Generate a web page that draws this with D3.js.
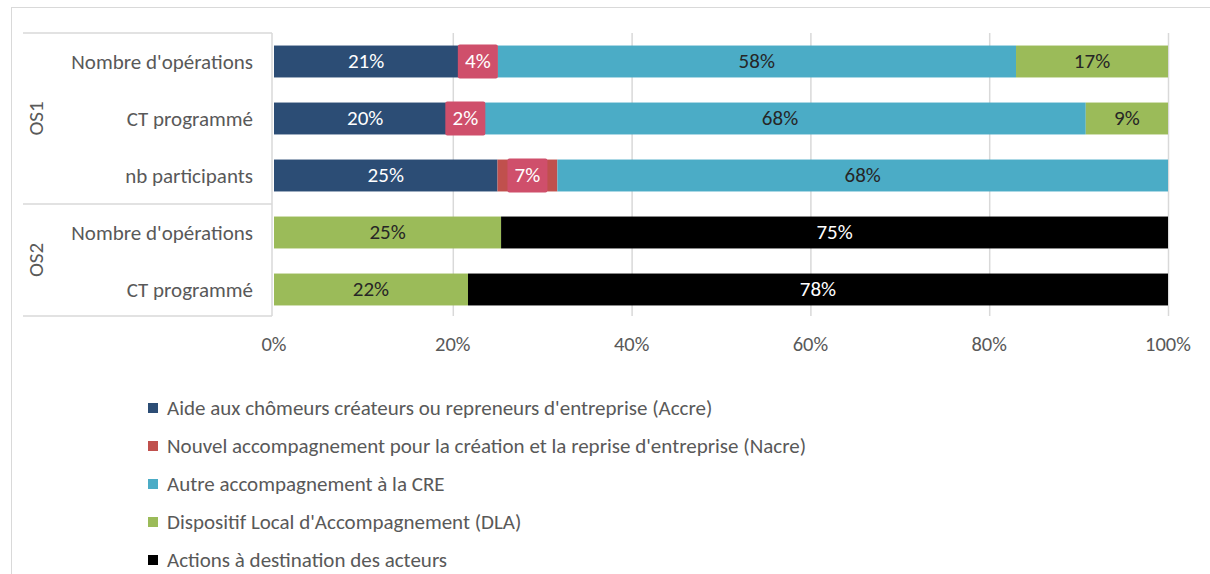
<!DOCTYPE html>
<html>
<head>
<meta charset="utf-8">
<script src="https://cdn.jsdelivr.net/npm/d3@7"></script>
<style>
  body { margin: 0; background: #fff; }
  svg { display: block; font-family: Carlito, "Open Sans", sans-serif; }
</style>
</head>
<body>
<div id="chart"></div>
<script>
// row labels (group, sub-category)
const groups = ["OS1", "OS1", "OS1", "OS2", "OS2"];
const rowLabels = ["Nombre d'opérations", "CT programmé", "nb participants", "Nombre d'opérations", "CT programmé"];

// series (share of each row, in %)
const seriesNames = [
  "Aide aux chômeurs créateurs ou repreneurs d'entreprise (Accre)",
  "Nouvel accompagnement pour la création et la reprise d'entreprise (Nacre)",
  "Autre accompagnement à la CRE",
  "Dispositif Local d'Accompagnement (DLA)",
  "Actions à destination des acteurs"
];
const accre = [20.6, 20.4, 25.0, 0, 0];
const nacre = [4.4, 2.0, 6.7, 0, 0];
const autreCre = [58.0, 68.4, 68.3, 0, 0];
const dla = [17.0, 9.2, 0, 25.4, 21.7];
const acteurs = [0, 0, 0, 74.6, 78.3];

const tickValues = [0, 20, 40, 60, 80, 100];

const colors = ["#2c4d75", "#c0504d", "#4bacc6", "#9bbb59", "#000000"];
const labelColors = ["#ffffff", "#ffffff", "#262626", "#262626", "#ffffff"];

const W = 1210, H = 574;
const fs = 21;
const svg = d3.select("#chart").append("svg")
  .attr("width", W)
  .attr("height", H);

// outer chart border
svg.append("rect")
  .attr("x", 11.5).attr("y", 7.5)
  .attr("width", W).attr("height", H)
  .attr("fill", "none")
  .attr("stroke", "#d9d9d9");

const keys = ["accre", "nacre", "autreCre", "dla", "acteurs"];
const table = rowLabels.map((d, i) => ({
  idx: i,
  accre: accre[i], nacre: nacre[i], autreCre: autreCre[i], dla: dla[i], acteurs: acteurs[i]
}));
const stacked = d3.stack().keys(keys)(table);

const x = d3.scaleLinear().domain([0, 100]).range([274, 1168]);
const y = d3.scaleBand()
  .domain(d3.range(rowLabels.length))
  .range([33, 318])
  .paddingInner(0.44)
  .paddingOuter(0.22);

// gridlines
svg.append("g")
  .selectAll("line")
  .data(tickValues.slice(1))
  .join("line")
  .attr("x1", d => x(d) + 0.5).attr("x2", d => x(d) + 0.5)
  .attr("y1", 33).attr("y2", 316)
  .attr("stroke", "#d9d9d9")
  .attr("stroke-width", 1.5);

// tick labels
svg.append("g")
  .selectAll("text")
  .data(tickValues)
  .join("text")
  .attr("x", d => x(d))
  .attr("y", 344)
  .attr("text-anchor", "middle")
  .attr("dominant-baseline", "central")
  .attr("font-size", fs - 0.5)
  .attr("fill", "#595959")
  .text(d => d + "%");

// category axis box
const axisG = svg.append("g")
  .attr("stroke", "#d9d9d9")
  .attr("stroke-width", 1.5);
const sepY = (y(2) + y.bandwidth() + y(3)) / 2;
[33, sepY, 316].forEach(v => {
  axisG.append("line")
    .attr("x1", 23).attr("x2", 272)
    .attr("y1", v).attr("y2", v);
});
axisG.append("line")
  .attr("x1", 272).attr("x2", 272)
  .attr("y1", 33).attr("y2", 316);

// row labels
svg.append("g")
  .selectAll("text")
  .data(rowLabels)
  .join("text")
  .attr("x", 253)
  .attr("y", (d, i) => y(i) + y.bandwidth() / 2)
  .attr("text-anchor", "end")
  .attr("dominant-baseline", "central")
  .attr("font-size", fs)
  .attr("fill", "#595959")
  .text(d => d);

// group labels (rotated)
const groupNames = [...new Set(groups)];
groupNames.forEach(g => {
  const rows = d3.range(groups.length).filter(i => groups[i] === g);
  const top = rows[0] === 0 ? 33 : sepY;
  const bottom = rows[rows.length - 1] === groups.length - 1 ? 316 : sepY;
  const cy = (top + bottom) / 2;
  svg.append("text")
    .attr("transform", `translate(36,${cy}) rotate(-90)`)
    .attr("text-anchor", "middle")
    .attr("dominant-baseline", "central")
    .attr("font-size", fs)
    .attr("fill", "#595959")
    .text(g);
});

// bars
const layer = svg.append("g")
  .selectAll("g")
  .data(stacked)
  .join("g")
  .attr("fill", (d, i) => colors[i]);

layer.selectAll("rect")
  .data(d => d.filter(p => p[1] - p[0] > 0))
  .join("rect")
  .attr("x", d => x(d[0]))
  .attr("y", d => y(d.data.idx))
  .attr("width", d => x(d[1]) - x(d[0]))
  .attr("height", y.bandwidth());

// data labels
const labelG = svg.append("g");
stacked.forEach((s, si) => {
  s.filter(p => p[1] - p[0] > 0).forEach(p => {
    const cx = (x(p[0]) + x(p[1])) / 2;
    const cy = y(p.data.idx) + y.bandwidth() / 2;
    if (si === 1) {
      // Nacre labels sit on a tinted box
      labelG.append("rect")
        .attr("x", cx - 20)
        .attr("y", y(p.data.idx) - 1)
        .attr("width", 40)
        .attr("height", y.bandwidth() + 2)
        .attr("rx", 2)
        .attr("fill", "#cf4f6b");
    }
    labelG.append("text")
      .attr("x", cx)
      .attr("y", cy - 1)
      .attr("text-anchor", "middle")
      .attr("dominant-baseline", "central")
      .attr("font-size", fs)
      .attr("fill", labelColors[si])
      .text(Math.round(p[1] - p[0]) + "%");
  });
});

// legend
const legend = svg.append("g")
  .selectAll("g")
  .data(seriesNames)
  .join("g")
  .attr("transform", (d, i) => `translate(148,${408 + i * 38})`);
legend.append("rect")
  .attr("x", 0).attr("y", -5)
  .attr("width", 10).attr("height", 10)
  .attr("fill", (d, i) => colors[i]);
legend.append("text")
  .attr("x", 19)
  .attr("y", 0)
  .attr("dominant-baseline", "central")
  .attr("font-size", fs)
  .attr("fill", "#595959")
  .text(d => d);
</script>
</body>
</html>
